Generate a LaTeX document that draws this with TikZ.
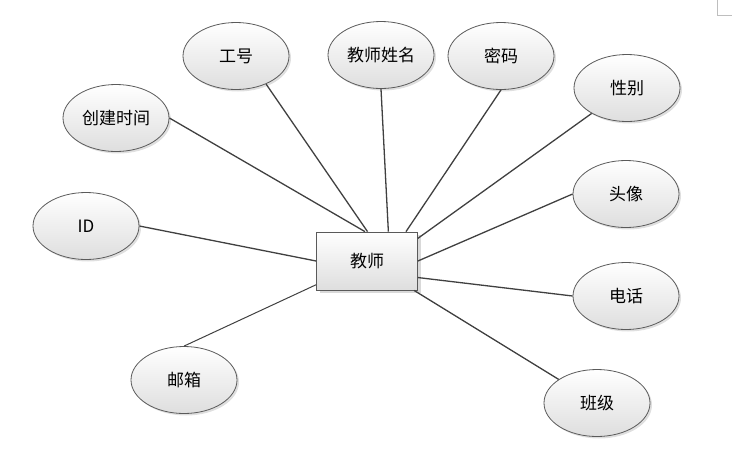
\documentclass[tikz,border=0pt]{standalone}
\usepackage{fontspec}
\setmainfont{Noto Sans CJK SC}
\usepackage{xcolor}
\usetikzlibrary{shapes.geometric, shadows}
\definecolor{linegray}{RGB}{64, 64, 64}
\definecolor{edgegray}{RGB}{90, 90, 90}
\definecolor{fillgray}{RGB}{222, 222, 222}
\definecolor{markgray}{RGB}{190, 190, 190}

\tikzset{
    attr/.style={ellipse, draw=edgegray, line width=0.8pt, minimum width=106pt,
        minimum height=67pt, top color=white, bottom color=fillgray,
        drop shadow={opacity=0.25, shadow xshift=2pt, shadow yshift=-2pt},
        font=\fontsize{17pt}{19pt}\selectfont},
    entity/.style={rectangle, draw=edgegray, line width=0.8pt, minimum width=101pt,
        minimum height=58pt, top color=white, bottom color=fillgray,
        drop shadow={opacity=0.3, shadow xshift=3pt, shadow yshift=-3pt},
        font=\fontsize{17pt}{19pt}\selectfont},
    link/.style={draw=linegray, line width=1.3pt}
}

\begin{document}
\begin{tikzpicture}[x=1pt, y=-1pt]
    \useasboundingbox (0,0) rectangle (732,459);
    % page corner mark
    \draw[markgray, line width=0.8pt] (717,0) -- (717,15) -- (732,15);

    \node[entity] (teacher) at (367,261) {教师};

    \node[attr] (gonghao) at (236,56) {工号};
    \node[attr] (xingming) at (381,55) {教师姓名};
    \node[attr] (mima) at (501,56) {密码};
    \node[attr] (xingbie) at (627,88) {性别};
    \node[attr] (chuangjian) at (116,118) {创建时间};
    \node[attr] (touxiang) at (626,194) {头像};
    \node[attr] (id) at (86,226) {ID};
    \node[attr] (dianhua) at (626,296) {电话};
    \node[attr] (youxiang) at (184,380) {邮箱};
    \node[attr] (banji) at (597,403) {班级};

    % connectors
    \draw[link] (gonghao.-43) -- (teacher.89);
    \draw[link] (chuangjian.east) -- (teacher.94);
    \draw[link] (xingming.south) -- (teacher.54);
    \draw[link] (mima.south) -- (teacher.37);
    \draw[link] (xingbie) -- (teacher.24);
    \draw[link] (touxiang.west) -- (teacher.0);
    \draw[link] (dianhua.west) -- (teacher.-18);
    \draw[link] (banji) -- (teacher.-32);
    \draw[link] (id.east) -- (teacher.180);
    \draw[link, line width=1pt] (youxiang.north) -- (teacher.205);
\end{tikzpicture}
\end{document}
